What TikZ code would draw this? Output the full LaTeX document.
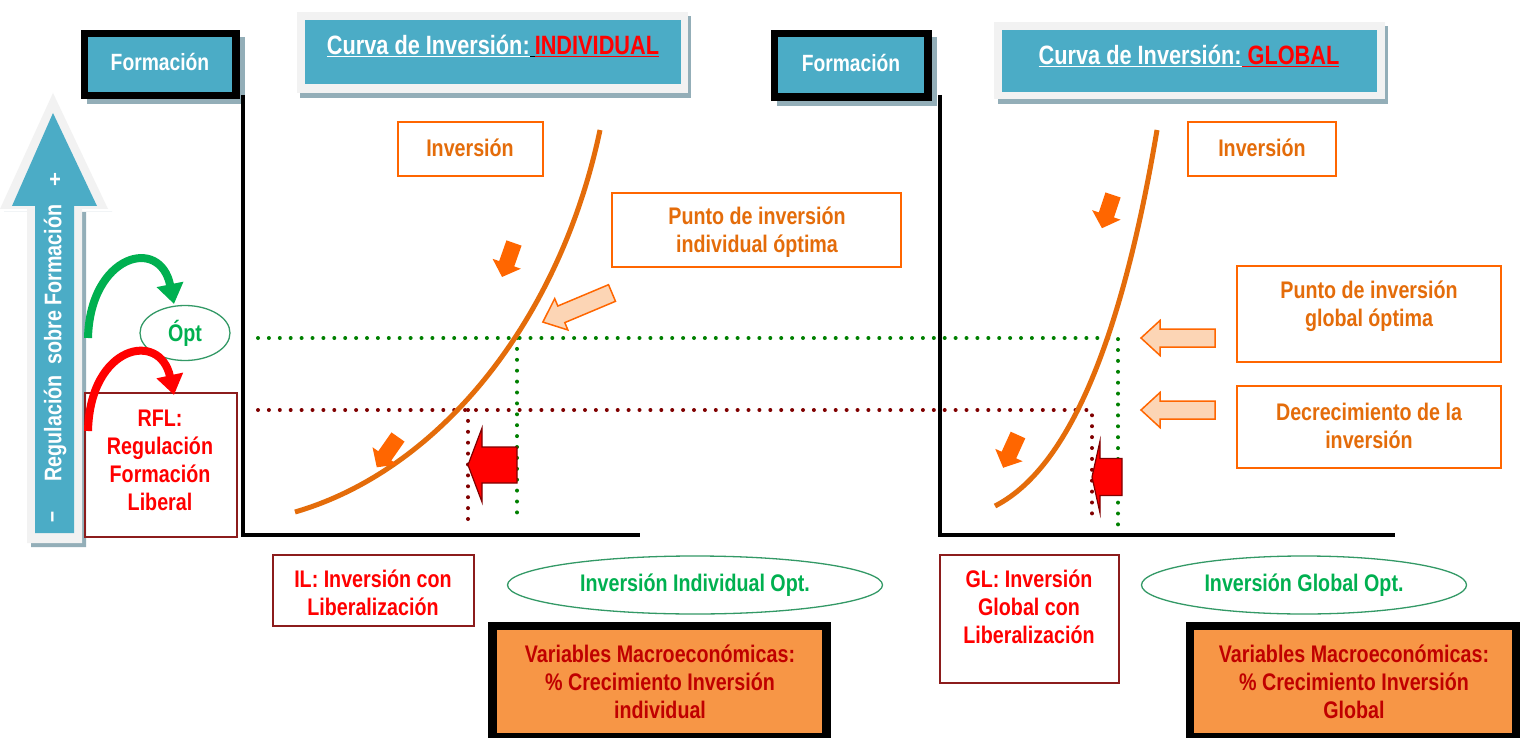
\documentclass[tikz,border=0pt]{standalone}
\usepackage{fontspec}
\newfontfamily\nf{Liberation Sans}[FakeStretch=0.82]
\usetikzlibrary{arrows.meta,calc,shapes.geometric}
\definecolor{sblue}{HTML}{4BACC6}
\definecolor{sgray}{HTML}{F2F2F2}
\definecolor{sshadow}{HTML}{93AEB8}
\definecolor{corange}{HTML}{E46C0A}
\definecolor{borange}{HTML}{FF6600}
\definecolor{peach}{HTML}{FCD5B5}
\definecolor{dred}{HTML}{8C1C1C}
\definecolor{mred}{HTML}{C00000}
\definecolor{cgreen}{HTML}{00B050}
\definecolor{dgreen}{HTML}{008000}
\definecolor{dotred}{HTML}{800000}
\definecolor{vorange}{HTML}{F79646}
\definecolor{ellgreen}{HTML}{339966}
\newcommand\blockarr[7]{%
\begin{scope}[shift={(#1)},rotate=#2]
\path[#7] (0pt,-#4pt) -- ({#3pt-#6pt},-#4pt) -- ({#3pt-#6pt},-#5pt) -- (#3pt,0pt) -- ({#3pt-#6pt},#5pt) -- ({#3pt-#6pt},#4pt) -- (0pt,#4pt) -- cycle;
\end{scope}}
\begin{document}
\begin{tikzpicture}[x=1pt,y=-1pt,
  txt/.style={font=\nf\bfseries\fontsize{24}{28}\selectfont, align=center, inner sep=0pt},
  ftxt/.style={font=\nf\bfseries\fontsize{24}{28}\selectfont},
  titletxt/.style={txt, font=\nf\bfseries\fontsize{26.5}{28}\selectfont},
  formtxt/.style={txt, text=white, font=\nf\bfseries\fontsize{23.5}{28}\selectfont},
  obox/.style={draw=borange, line width=1.5pt},
  rbox/.style={draw=dred, line width=1.5pt},
  dotline/.style={line width=4pt, line cap=round, dash pattern=on 0pt off 10.9pt},
  axis/.style={line width=4.5pt, black},
  curve/.style={line width=5pt, corange},
  solidarr/.style={fill=borange},
  peacharr/.style={fill=peach, draw=borange, line width=1.5pt},
  redarr/.style={fill=red, draw=dotred, line width=1.2pt},
  oval/.style={ellipse, draw=ellgreen, line width=1.3pt, text=cgreen, inner sep=0pt, ftxt}
]
\useasboundingbox (0,0) rectangle (1520,738);
\fill[white] (0,0) rectangle (1520,738);

% ---------- big left arrow ----------
\fill[sshadow] (4,212) -- (112,212) -- (86,212) -- (86,547) -- (31,547) -- (31,212) -- cycle;
\fill[sgray] (53,93) -- (108,209) -- (82,209) -- (82,543) -- (27,543) -- (27,209) -- (0,209) -- cycle;
\fill[sblue] (53,113) -- (97,206) -- (74,206) -- (74,533) -- (35,533) -- (35,206) -- (12,206) -- cycle;
\node[txt, text=white, rotate=90] (reg) at (55,343) {Regulación\ \ sobre Formación};
\node[txt, text=white] (plus) at (55,180) {+};
\node[txt, text=white, rotate=90] (minus) at (55,517) {–};

% ---------- Formación boxes ----------
\fill[sshadow] (87,37) rectangle (245,104);
\fill[black] (81,30) rectangle (240,99);
\fill[sblue] (88,37) rectangle (232,92);
\node[formtxt] (f1) at (160,62) {Formación};

\fill[sshadow] (777,37) rectangle (937,106);
\fill[black] (771,30) rectangle (932,101);
\fill[sblue] (778,37) rectangle (924,93);
\node[formtxt] (f2) at (851,63) {Formación};

% ---------- Title boxes ----------
\fill[sshadow] (300,16) rectangle (691,98);
\fill[sgray] (297,12) rectangle (688,93);
\fill[sblue] (305,20) rectangle (681,84);
\node[titletxt] (t1) at (493,46) {{\color{white}\underline{Curva de Inversión:}}{\color{black}\underline{\hspace{5pt}}}{\color{red}\underline{INDIVIDUAL}}};

\fill[sshadow] (998,26) rectangle (1388,104);
\fill[sgray] (994,22) rectangle (1385,99);
\fill[sblue] (1002,30) rectangle (1377,92);
\node[titletxt] (t2) at (1189,56) {{\color{white}\underline{Curva de Inversión:}}{\color{red}\underline{\ GLOBAL}}};

% ---------- dotted guide lines ----------
\coordinate (g0) at (258,338);
\coordinate (g1) at (517,338);
\coordinate (g1b) at (517,523);
\coordinate (g2) at (1118,338);
\coordinate (g2b) at (1118,527);
\coordinate (r0) at (258,410);
\coordinate (r1) at (468,410);
\coordinate (r1b) at (468,520);
\coordinate (r2) at (1092,410);
\coordinate (r2b) at (1092,520);
\draw[dotline, dgreen] (g0) -- (g2) -- (g2b);
\draw[dotline, dgreen] (g1) -- (g1b);
\draw[dotline, dotred] (r0) -- (r2) -- (r2b);
\draw[dotline, dotred] (r1) -- (r1b);

% ---------- axes ----------
\draw[axis] (243,95) -- (243,535) -- (640,535);
\draw[axis] (940,95) -- (940,535) -- (1395,535);

% ---------- curves ----------
\draw[curve] (295,512) .. controls (440,470) and (560,320) .. (600,130);
\draw[curve] (995,506) .. controls (1075,465) and (1125,320) .. (1157,130);

% ---------- red block arrows ----------
\blockarr{517,465}{180}{49}{18}{37}{14}{redarr}
\blockarr{1122,477}{180}{30}{18.5}{36}{8}{redarr}

% ---------- small orange arrows ----------
\blockarr{514,243}{250.6}{36}{8}{15}{14}{solidarr}
\blockarr{398,437}{235}{37}{8}{15}{14}{solidarr}
\blockarr{1113,195}{251.6}{35}{8}{15}{14}{solidarr}
\blockarr{1018,435}{245.6}{36}{8}{15}{14}{solidarr}

% ---------- peach arrows ----------
\blockarr{612,293}{202.8}{75}{9}{17}{20}{peacharr}
\blockarr{1215,338}{180}{74}{9}{17.5}{19}{peacharr}
\blockarr{1215,410}{180}{74}{9}{17.5}{19}{peacharr}

% ---------- orange text boxes ----------
\draw[obox] (398,122) rectangle (543,176);
\node[txt, text=corange] (inv1) at (470,148) {Inversión};
\draw[obox] (612,193) rectangle (901,267);
\node[txt, text=corange] (pio1) at (757,232) {Punto de inversión\\individual óptima};
\draw[obox] (1188,122) rectangle (1336,176);
\node[txt, text=corange] (inv2) at (1262,148) {Inversión};
\draw[obox] (1237,266) rectangle (1501,362);
\node[txt, text=corange] (pio2) at (1369,306) {Punto de inversión\\global óptima};
\draw[obox] (1237,386) rectangle (1501,468);
\node[txt, text=corange] (dec) at (1369,426) {Decrecimiento de la\\inversión};

% ---------- left side: Ópt and RFL ----------
\node[oval, minimum width=90, minimum height=55] (opt) at (185,333) {Ópt};
\draw[rbox] (85,393) rectangle (237,537);
\node[txt, text=red] (rfl) at (160,460) {RFL:\\Regulación\\Formación\\Liberal};
\coordinate (ga) at (88,338);
\coordinate (gb) at (174,304);
\coordinate (ra) at (88,431);
\coordinate (rb) at (174,395);
\draw[line width=8pt, cgreen, -{Triangle[width=26pt,length=20pt]}] (ga) .. controls (90,255) and (160,235) .. (gb);
\draw[line width=8pt, red, -{Triangle[width=26pt,length=20pt]}] (ra) .. controls (90,345) and (160,330) .. (rb);

% ---------- bottom ----------
\draw[rbox] (273,555) rectangle (474,626);
\node[txt, text=red] (il) at (373,593) {IL: Inversión con\\Liberalización};
\node[oval, minimum width=375, minimum height=58] (iio) at (695,585) {Inversión Individual Opt.};
\fill[black] (488,622) rectangle (831,740);
\fill[vorange] (497,630) rectangle (822,733);
\node[txt, text=mred] (vm1) at (660,682) {Variables Macroeconómicas:\\\% Crecimiento Inversión\\individual};

\draw[rbox] (940,555) rectangle (1119,683);
\node[txt, text=red] (gl) at (1029,607) {GL: Inversión\\Global con\\Liberalización};
\node[oval, minimum width=325, minimum height=58] (igo) at (1304,585) {Inversión Global Opt.};
\fill[black] (1186,622) rectangle (1522,740);
\fill[vorange] (1194,630) rectangle (1512,733);
\node[txt, text=mred] (vm2) at (1354,682) {Variables Macroeconómicas:\\\% Crecimiento Inversión\\Global};
\end{tikzpicture}
\end{document}
